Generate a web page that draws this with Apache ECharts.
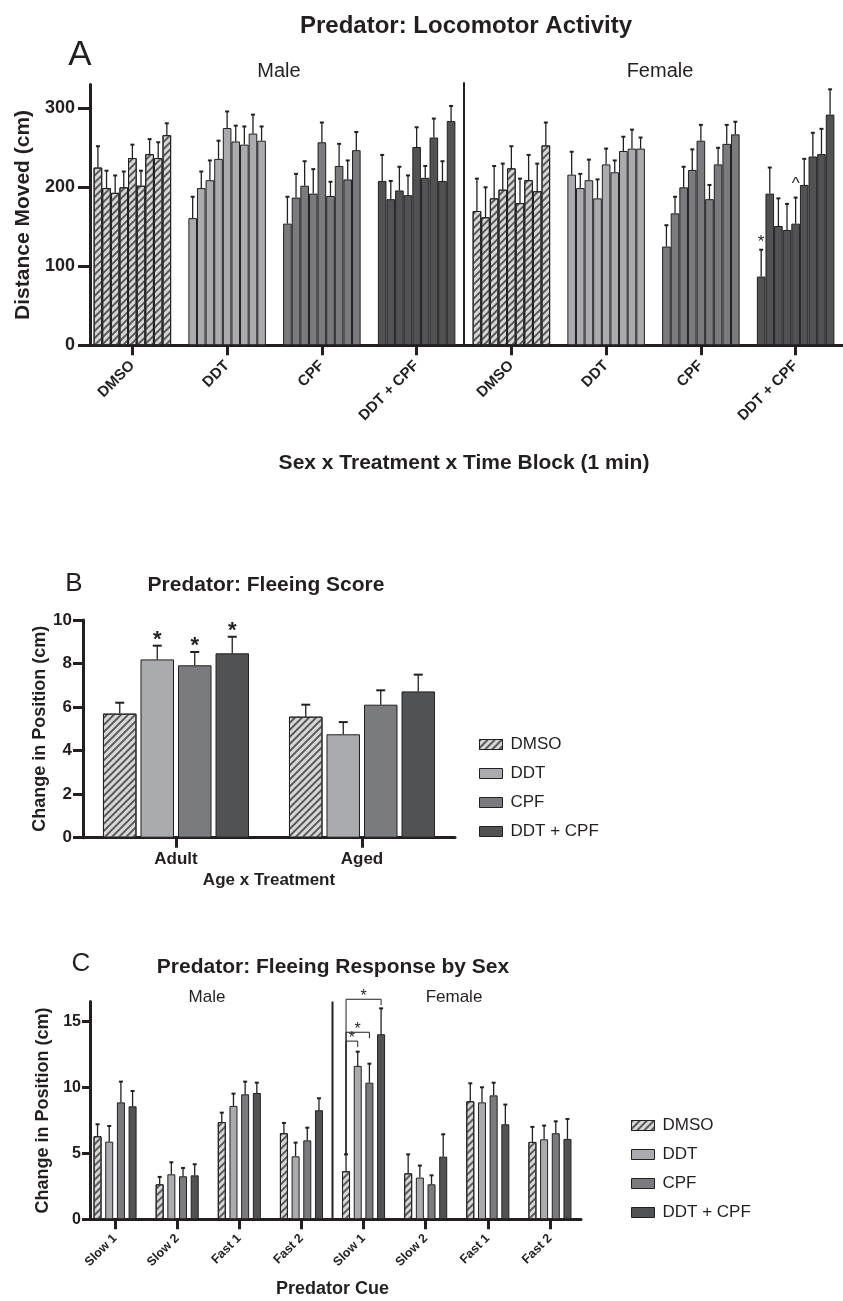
<!DOCTYPE html>
<html>
<head>
<meta charset="utf-8">
<title>Predator</title>
<script src="https://cdn.jsdelivr.net/npm/echarts@6/dist/echarts.min.js"></script>
</head>
<body style="margin:0;background:#fff">
<div id="container" style="width:843px;height:1301px"></div>
<script>
var treatments = ['DMSO', 'DDT', 'CPF', 'DDT + CPF'];
var sexes = ['Male', 'Female'];

// A: distance moved, 9 one-minute blocks per treatment
var locoMaleMean = [
  [225, 199, 193, 200, 237, 202, 242, 237, 266],
  [161, 199, 209, 236, 275, 258, 254, 268, 259],
  [154, 187, 202, 192, 257, 189, 227, 210, 247],
  [208, 185, 196, 190, 251, 212, 263, 208, 284]
];
var locoMaleErr = [
  [27, 22, 22, 20, 17, 19, 19, 20, 15],
  [27, 21, 25, 23, 21, 20, 23, 24, 18],
  [34, 30, 31, 31, 25, 18, 28, 24, 23],
  [33, 23, 30, 25, 25, 15, 24, 25, 19]
];
var locoFemaleMean = [
  [170, 162, 186, 197, 224, 180, 209, 195, 253],
  [216, 199, 209, 186, 229, 219, 246, 249, 249],
  [125, 167, 200, 222, 259, 185, 229, 255, 267],
  [87, 192, 151, 146, 154, 203, 239, 242, 292]
];
var locoFemaleErr = [
  [41, 38, 41, 33, 28, 31, 32, 35, 29],
  [29, 18, 26, 24, 20, 15, 18, 24, 14],
  [27, 21, 26, 26, 20, 18, 21, 24, 16],
  [34, 33, 35, 33, 33, 33, 30, 32, 32]
];
var locoMarks = [[1, 3, 0, '*'], [1, 3, 4, '^']]; // sex, treatment, block, symbol
var locoTicks = [0, 100, 200, 300];

// B: fleeing score by age
var ages = ['Adult', 'Aged'];
var fleeMean = [[5.70, 5.56], [8.19, 4.75], [7.92, 6.11], [8.47, 6.72]];
var fleeErr = [[0.50, 0.55], [0.63, 0.56], [0.61, 0.66], [0.76, 0.77]];
var fleeStars = [[0, 1], [0, 2], [0, 3]]; // age, treatment
var fleeTicks = [0, 2, 4, 6, 8, 10];

// C: fleeing response by sex and predator cue (male 4 cues, female 4 cues)
var cues = ['Slow 1', 'Slow 2', 'Fast 1', 'Fast 2', 'Slow 1', 'Slow 2', 'Fast 1', 'Fast 2'];
var cueMean = [
  [6.29, 2.65, 7.37, 6.52, 3.64, 3.48, 8.94, 5.86],
  [5.88, 3.41, 8.59, 4.77, 11.62, 3.16, 8.86, 6.06],
  [8.86, 3.26, 9.47, 5.98, 10.35, 2.65, 9.39, 6.52],
  [8.56, 3.33, 9.57, 8.26, 14.02, 4.75, 7.20, 6.09]
];
var cueErr = [
  [0.91, 0.56, 0.71, 0.78, 1.28, 1.44, 1.36, 1.14],
  [1.19, 0.91, 0.93, 1.04, 1.08, 0.91, 1.14, 1.04],
  [1.57, 0.63, 0.96, 0.96, 1.44, 0.68, 0.96, 0.90],
  [1.16, 0.84, 0.78, 0.91, 1.96, 1.69, 1.49, 1.51]
];
var cueBrackets = [[4, 0, 3, 16.67], [4, 0, 2, 14.17], [4, 0, 1, 13.5]]; // cue, from, to, level
var cueTicks = [0, 5, 10, 15];

var FONT = 'Liberation Sans';
var INK = '#231f20';
var fills = ['#d8d8d9', '#aaabae', '#7a7b7e', '#515254'];

function barStyle(t) {
  var s = {color: fills[t], borderColor: INK, borderWidth: 1};
  if (t === 0) {
    s.decal = {symbol: 'rect', symbolSize: 1, dashArrayX: [1, 0], dashArrayY: [1.2, 3], rotation: -Math.PI / 4, color: '#5a5a5c'};
  }
  return s;
}

// panel A slots: gap, 9 blocks, gap for each sex x treatment
var SLOT = 11;
var slotNames = [], slotBars = [], slotErr = [], slotLabel = {};
sexes.forEach(function (sex, s) {
  var means = s ? locoFemaleMean : locoMaleMean;
  var errs = s ? locoFemaleErr : locoMaleErr;
  treatments.forEach(function (tr, t) {
    var g = s * 4 + t;
    for (var k = 0; k < SLOT; k++) {
      var slot = g * SLOT + k, b = k - 1;
      if (b >= 0 && b < 9) {
        slotNames.push(sex + ' ' + tr + ' ' + (b + 1));
        slotBars.push({value: means[t][b], itemStyle: barStyle(t)});
        slotErr.push([slot, 0, means[t][b], errs[t][b]]);
      } else {
        slotNames.push('gap' + slot);
        slotBars.push('-');
      }
      if (k === 5) slotLabel[slot] = tr;
    }
  });
});
function slotOf(s, t, b) { return (s * 4 + t) * SLOT + b + 1; }
function locoValue(s, t, b) {
  return s ? [locoFemaleMean[t][b], locoFemaleErr[t][b]] : [locoMaleMean[t][b], locoMaleErr[t][b]];
}

function line(x1, y1, x2, y2, w) {
  return {type: 'line', shape: {x1: x1, y1: y1, x2: x2, y2: y2}, style: {stroke: INK, lineWidth: w}};
}
function errRenderer(pitch, cap) {
  return function (params, api) {
    var cat = api.value(0), t = api.value(1), m = api.value(2), e = api.value(3);
    var p0 = api.coord([cat, m]), p1 = api.coord([cat, m + e]);
    var x = p0[0] + (t - 1.5) * pitch;
    if (pitch === 0) x = p0[0];
    return {type: 'group', children: [line(x, p0[1], x, p1[1], 1.3), line(x - cap, p1[1], x + cap, p1[1], 2)]};
  };
}

var axisLine = {show: true, lineStyle: {color: INK, width: 3}};
function tickStyle(len, extra) {
  var o = {show: true, length: len, lineStyle: {color: INK, width: 3}};
  for (var k in extra) o[k] = extra[k];
  return o;
}
function lab(size, extra) {
  var o = {fontFamily: FONT, fontWeight: 'bold', fontSize: size, color: INK};
  for (var k in extra) o[k] = extra[k];
  return o;
}
function txt(text, x, y, size, bold) {
  return {text: text, left: x, top: y, textAlign: 'center', padding: 0,
    textStyle: {fontFamily: FONT, fontSize: size, fontWeight: bold ? 'bold' : 'normal', color: INK}};
}

var series = [];

// ---- A ----
series.push({type: 'bar', name: 'loco', xAxisIndex: 0, yAxisIndex: 0, barCategoryGap: '0%', data: slotBars});
series.push({type: 'custom', name: 'locoErr', xAxisIndex: 0, yAxisIndex: 0, z: 3, encode: {x: 0, y: 2},
  renderItem: errRenderer(0, 2), data: slotErr});
series.push({type: 'custom', name: 'locoSep', xAxisIndex: 0, yAxisIndex: 0, z: 3,
  renderItem: function (params, api) {
    var a = api.coord([4 * SLOT - 1, 333]), b = api.coord([4 * SLOT, 0]);
    var x = (a[0] + b[0]) / 2;
    return line(x, a[1], x, b[1], 2);
  }, data: [[0, 0]]});
series.push({type: 'custom', name: 'locoMarks', xAxisIndex: 0, yAxisIndex: 0, z: 4,
  renderItem: function (params, api) {
    var m = locoMarks[params.dataIndex];
    var v = locoValue(m[0], m[1], m[2]);
    var p = api.coord([slotOf(m[0], m[1], m[2]), v[0] + v[1]]);
    var gap = m[3] === '^' ? 13 : 7;
    return {type: 'text', style: {text: m[3], x: p[0], y: p[1] - gap, align: 'center', verticalAlign: 'middle',
      font: '17px "' + FONT + '"', fill: INK}};
  }, data: locoMarks.map(function (m, i) { return [i, 0]; })});

// ---- B ----
treatments.forEach(function (tr, t) {
  series.push({type: 'bar', name: tr, xAxisIndex: 1, yAxisIndex: 1, barWidth: 33.5, barGap: '12%',
    itemStyle: barStyle(t), data: fleeMean[t]});
});
var fleeErrData = [];
treatments.forEach(function (tr, t) {
  ages.forEach(function (a, i) { fleeErrData.push([i, t, fleeMean[t][i], fleeErr[t][i]]); });
});
series.push({type: 'custom', name: 'fleeErr', xAxisIndex: 1, yAxisIndex: 1, z: 3, encode: {x: 0, y: 2},
  renderItem: errRenderer(37.5, 4.5), data: fleeErrData});
series.push({type: 'custom', name: 'fleeStars', xAxisIndex: 1, yAxisIndex: 1, z: 4,
  renderItem: function (params, api) {
    var s = fleeStars[params.dataIndex], a = s[0], t = s[1];
    var p = api.coord([a, fleeMean[t][a] + fleeErr[t][a]]);
    return {type: 'text', style: {text: '*', x: p[0] + (t - 1.5) * 37.5, y: p[1] - 6, align: 'center',
      verticalAlign: 'middle', font: 'bold 22px "' + FONT + '"', fill: INK}};
  }, data: fleeStars.map(function (s, i) { return [i, 0]; })});

// ---- C ----
treatments.forEach(function (tr, t) {
  series.push({type: 'bar', name: tr, xAxisIndex: 2, yAxisIndex: 2, barWidth: 8, barGap: '46%',
    itemStyle: barStyle(t), data: cueMean[t]});
});
var cueErrData = [];
treatments.forEach(function (tr, t) {
  cues.forEach(function (c, i) { cueErrData.push([i, t, cueMean[t][i], cueErr[t][i]]); });
});
series.push({type: 'custom', name: 'cueErr', xAxisIndex: 2, yAxisIndex: 2, z: 3, encode: {x: 0, y: 2},
  renderItem: errRenderer(11.68, 2), data: cueErrData});
series.push({type: 'custom', name: 'cueSep', xAxisIndex: 2, yAxisIndex: 2, z: 3,
  renderItem: function (params, api) {
    var a = api.coord([3, 16.5]), b = api.coord([4, 0]);
    var x = (a[0] + b[0]) / 2;
    return line(x, a[1], x, b[1], 2);
  }, data: [[0, 0]]});
series.push({type: 'custom', name: 'cueBrackets', xAxisIndex: 2, yAxisIndex: 2, z: 4,
  renderItem: function (params, api) {
    var br = cueBrackets[params.dataIndex], c = br[0], f = br[1], to = br[2];
    var p = api.coord([c, br[3]]);
    var xl = p[0] + (f - 1.5) * 11.68, xr = p[0] + (to - 1.5) * 11.68;
    var base = api.coord([c, cueMean[f][c] + cueErr[f][c]]);
    return {type: 'group', children: [
      line(xl, p[1], xr, p[1], 1),
      line(xr, p[1], xr, p[1] + 6, 1),
      line(xl, p[1], xl, base[1], 1),
      {type: 'text', style: {text: '*', x: (xl + xr) / 2, y: p[1] - 3, align: 'center', verticalAlign: 'middle',
        font: '16px "' + FONT + '"', fill: INK}}
    ]};
  }, data: cueBrackets.map(function (b, i) { return [i, 0]; })});

var legendBase = {data: treatments, orient: 'vertical', icon: 'rect', itemWidth: 23, itemHeight: 10,
  selectedMode: false, itemStyle: {borderColor: INK, borderWidth: 1}};

var option = {
  animation: false,
  backgroundColor: '#fff',
  title: [
    txt('Predator: Locomotor Activity', 466, 14, 24, true),
    txt('A', 80, 38, 35, false),
    txt('Male', 279, 61, 20, false),
    txt('Female', 660, 61, 20, false),
    txt('B', 74, 571, 26, false),
    txt('Predator: Fleeing Score', 266, 575, 21, true),
    txt('C', 81, 951, 26, false),
    txt('Predator: Fleeing Response by Sex', 333, 957, 21, true),
    txt('Male', 207, 989, 17, false),
    txt('Female', 454, 989, 17, false)
  ],
  legend: [
    Object.assign({left: 474, top: 731, itemGap: 12,
      textStyle: {fontFamily: FONT, fontSize: 17, color: INK, lineHeight: 16, padding: [0, 0, 0, 3]}}, legendBase),
    Object.assign({left: 626, top: 1112, itemGap: 12,
      textStyle: {fontFamily: FONT, fontSize: 17, color: INK, lineHeight: 16, padding: [0, 0, 0, 3]}}, legendBase)
  ],
  grid: [
    {left: 85, top: 84.6, width: 758, height: 260.7},
    {left: 83, top: 620, width: 372, height: 217.7},
    {left: 84, top: 1001.5, width: 497, height: 217.8}
  ],
  xAxis: [
    {gridIndex: 0, type: 'category', data: slotNames, axisLine: axisLine,
      axisTick: tickStyle(10, {alignWithLabel: true, interval: function (i) { return i % SLOT === 5; }}),
      axisLabel: lab(15, {rotate: 45, margin: 18, interval: function (i) { return i % SLOT === 5; },
        formatter: function (v, i) { return slotLabel[i] || ''; }}),
      name: 'Sex x Treatment x Time Block (1 min)', nameLocation: 'middle', nameGap: 107,
      nameTextStyle: lab(21)},
    {gridIndex: 1, type: 'category', data: ages, axisLine: axisLine,
      axisTick: tickStyle(10, {alignWithLabel: true}),
      axisLabel: lab(17, {margin: 13}),
      name: 'Age x Treatment', nameLocation: 'middle', nameGap: 34, nameTextStyle: lab(17)},
    {gridIndex: 2, type: 'category', data: cues, axisLine: axisLine,
      axisTick: tickStyle(10, {alignWithLabel: true}),
      axisLabel: lab(12.5, {rotate: 45, margin: 17, interval: 0}),
      name: 'Predator Cue', nameLocation: 'middle', nameGap: 61, nameTextStyle: lab(18)}
  ],
  yAxis: [
    {gridIndex: 0, type: 'value', min: 0, max: 330, offset: -5, splitLine: {show: false}, axisLine: axisLine,
      axisTick: tickStyle(12, {customValues: locoTicks}),
      axisLabel: lab(18, {customValues: locoTicks, margin: 15}),
      name: 'Distance Moved (cm)', nameLocation: 'middle', nameGap: 55, nameTextStyle: lab(21)},
    {gridIndex: 1, type: 'value', min: 0, max: 10, splitLine: {show: false}, axisLine: axisLine,
      axisTick: tickStyle(10, {customValues: fleeTicks}),
      axisLabel: lab(17, {customValues: fleeTicks, margin: 11}),
      name: 'Change in Position (cm)', nameLocation: 'middle', nameGap: 33, nameTextStyle: lab(18)},
    {gridIndex: 2, type: 'value', min: 0, max: 16.5, offset: -6, splitLine: {show: false}, axisLine: axisLine,
      axisTick: tickStyle(8, {customValues: cueTicks}),
      axisLabel: lab(16, {customValues: cueTicks, margin: 9}),
      name: 'Change in Position (cm)', nameLocation: 'middle', nameGap: 34, nameTextStyle: lab(18)}
  ],
  series: series
};

var dom = document.getElementById('container');
var myChart = echarts.init(dom);
myChart.setOption(option);
</script>
</body>
</html>
